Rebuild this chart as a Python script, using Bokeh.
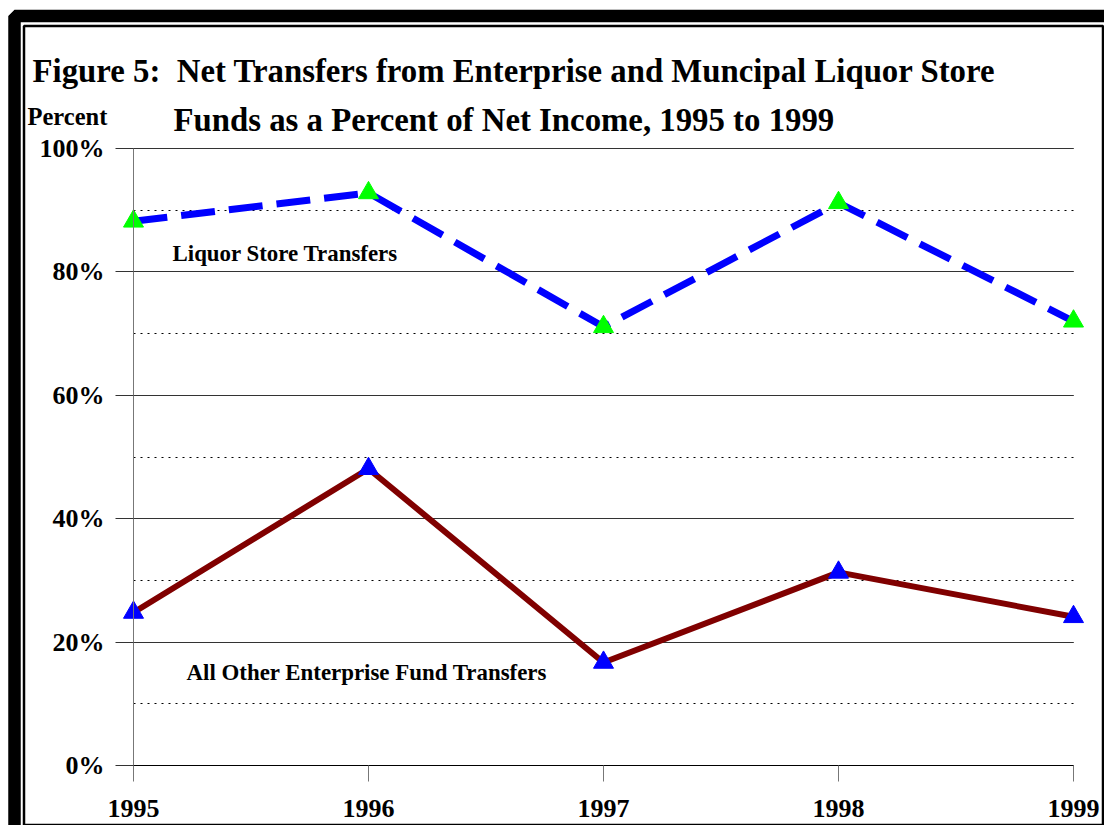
from bokeh.plotting import figure
from bokeh.models import (Range1d, FixedTicker, SingleIntervalTicker, Label, BoxAnnotation)
from bokeh.embed import file_html
from bokeh.resources import INLINE

# ---- data ----
years = [1995, 1996, 1997, 1998, 1999]
liquor_store = [88.2, 92.8, 71.1, 91.2, 72.0]
all_other = [24.8, 48.1, 16.7, 31.3, 24.1]
y_ticks = [0, 20, 40, 60, 80, 100]
y_tick_labels = ["0%", "20%", "40%", "60%", "80%", "100%"]
title_line1 = "Figure 5: \u00a0Net Transfers from Enterprise and Muncipal Liquor Store"
title_line2 = "Funds as a Percent of Net Income, 1995 to 1999"
y_title = "Percent"
liquor_label = "Liquor Store Transfers"
other_label = "All Other Enterprise Fund Transfers"

FONT = "Liberation Serif"
W, H = 1104, 825
FL, FR, FT, FB = 133, 1073, 148, 765   # plot-area edges in pixels
Y0, Y1 = y_ticks[0], y_ticks[-1]

def xd(px):
    return years[0] + (px - FL) * (years[-1] - years[0]) / (FR - FL)

def yd(py):
    return Y0 + (FB - py) * (Y1 - Y0) / (FB - FT)

p = figure(width=W, height=H, output_backend="svg", toolbar_location=None,
           x_range=Range1d(xd(0), xd(W)), y_range=Range1d(yd(H), yd(0)),
           min_border=0, min_border_left=0, min_border_right=0,
           min_border_top=0, min_border_bottom=0,
           background_fill_color="white", border_fill_color="white",
           outline_line_color=None)

# ---- axes (drawn at fixed locations inside the canvas) ----
yticker = SingleIntervalTicker(interval=20, num_minor_ticks=2)
yax = p.yaxis[0]
yax.fixed_location = years[0]
yax.bounds = (Y0, Y1)
yax.ticker = yticker
yax.axis_line_color = "#777777"
yax.major_tick_out = 18
yax.major_tick_in = 0
yax.major_tick_line_color = "#333333"
yax.minor_tick_out = 0
yax.minor_tick_in = 0
yax.major_label_standoff = 11
yax.major_label_text_font = FONT
yax.major_label_text_font_style = "bold"
yax.major_label_text_font_size = "26px"
yax.major_label_text_color = "black"
yax.major_label_overrides = {t: l for t, l in zip(y_ticks, y_tick_labels)}

xax = p.xaxis[0]
xax.fixed_location = Y0
xax.bounds = (years[0], years[-1])
xax.ticker = FixedTicker(ticks=years)
xax.axis_line_color = "black"
xax.major_tick_out = 16
xax.major_tick_in = 0
xax.major_tick_line_color = "#777777"
xax.minor_tick_out = 0
xax.minor_tick_in = 0
xax.major_label_standoff = 18
xax.major_label_text_font = FONT
xax.major_label_text_font_style = "bold"
xax.major_label_text_font_size = "26px"
xax.major_label_text_color = "black"
xax.major_label_overrides = {y: str(y) for y in years}

# ---- grids ----
p.xgrid.visible = False
yg = p.ygrid[0]
yg.ticker = yticker
yg.bounds = (Y0, Y1)
yg.cross_bounds = (years[0], years[-1])
yg.grid_line_color = "#333333"
yg.grid_line_width = 1
yg.minor_grid_line_color = "black"
yg.minor_grid_line_dash = "2 5"
yg.minor_grid_line_width = 1

# ---- series ----
p.line(years, liquor_store, line_color="#0000FF", line_width=7, line_dash="34 14")
p.scatter(years, liquor_store, marker="triangle", size=20, fill_color="#00FF00",
          line_color="#00FF00")
p.line(years, all_other, line_color="#800000", line_width=6)
p.scatter(years, all_other, marker="triangle", size=20, fill_color="#0000FF",
          line_color="#0000FF")

# ---- frame borders ----
def box(l, r, t, b, lw):
    p.add_layout(BoxAnnotation(left=xd(l), right=xd(r), top=yd(t), bottom=yd(b),
                               fill_alpha=0, line_color="black", line_width=lw,
                               line_alpha=1.0))

box(14, 1113, 15.5, 834, 12.5)
box(23.5, 1102.5, 25.5, 824.5, 2.5)

# ---- texts (pixel positions converted to data space) ----
def lab(text, px, py, size):
    p.add_layout(Label(x=xd(px), y=yd(py), text=text,
                       text_font=FONT, text_font_style="bold",
                       text_font_size=size, text_color="black",
                       text_baseline="alphabetic", text_align="left"))

lab(title_line1, 32, 70.5, "32.8px")
lab(title_line2, 173, 119, "32.8px")
lab(y_title, 27, 116, "24.5px")
lab(liquor_label, 172, 253, "22.9px")
lab(other_label, 186, 672, "22.9px")

open("out.html", "w").write(file_html(p, INLINE))
